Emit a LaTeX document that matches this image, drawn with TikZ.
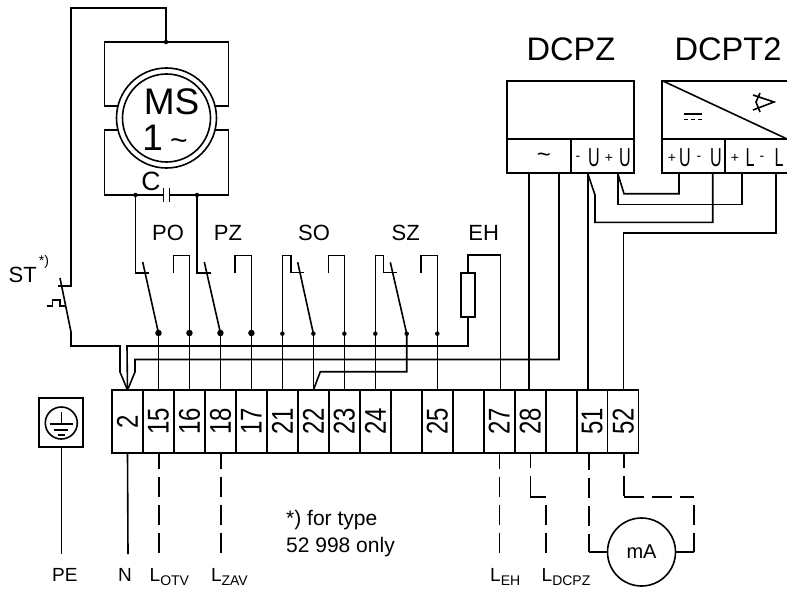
\documentclass[tikz,border=0pt]{standalone}
\usepackage{fontspec}
\setmainfont{Liberation Sans}
\usepackage{tikz}
\newcommand{\fsz}[1]{\fontsize{#1}{#1}\selectfont}
\newcommand{\condtext}[1]{\scalebox{0.62}[1]{\fsz{26}#1}}
\newcommand{\termtext}[1]{\rotatebox{90}{\scalebox{0.8}[1]{\fsz{30}#1}}}
\newcommand{\Lsub}[1]{L\raisebox{-4pt}{\fsz{14}#1}}
\tikzset{
  wire/.style={line width=1.6pt},
  dashwire/.style={line width=1.6pt,dash pattern=on 20pt off 8pt},
  bigdot/.style={circle,fill,inner sep=0pt,minimum size=6.5pt},
  smalldot/.style={circle,fill,inner sep=0pt,minimum size=4.5pt},
  termbox/.style={draw,line width=1.6pt,inner sep=0pt,outer sep=0pt,minimum width=30.98pt,minimum height=62.7pt},
  devbox/.style={draw,line width=2pt,inner sep=0pt,outer sep=0pt,minimum height=34pt},
  label/.style={inner sep=0pt,font=\fsz{22}},
  botlabel/.style={inner sep=0pt,anchor=base west,font=\fsz{19}},
  tiny/.style={inner sep=0pt,font=\fsz{14}}
}

\begin{document}
\begin{tikzpicture}[x=1pt,y=-1pt]
                \useasboundingbox (0,0) rectangle (787,594);

                %terminal strip, one cell per number
                \foreach \name/\lab [count=\i from 0] in {t2/2,t15/15,t16/16,t18/18,t17/17,t21/21,t22/22,t23/23,t24/24,tA/,t25/25,tB/,t27/27,t28/28,tC/,t51/51,t52/52}
                    \node[termbox] (\name) at ({127.5+30.98*\i},421.4) {\termtext{\lab}};

                %motor with its two rings
                \node (msO) at (166.5,118) [draw,circle,line width=1.6pt,inner sep=0pt,outer sep=0pt,minimum size=100pt]{};
                \node (msI) at (166.5,118) [draw,circle,line width=1.6pt,inner sep=0pt,minimum size=88pt]{};
                \node[inner sep=0pt,font=\fsz{37}] (msT) at (171.5,101.5) {MS};
                \node[inner sep=0pt,font=\fsz{37}] (oneT) at (165,138) {1\hspace{7pt}\fsz{30}\textasciitilde};
                \node[inner sep=0pt,font=\fsz{26.5}] (capT) at (151,181) {C};

                %frame above and below the motor
                \coordinate (mTL) at (104.5,42);
                \coordinate (mTR) at (228.5,42);
                \coordinate (mBL) at (104.5,195);
                \coordinate (mBR) at (228.5,195);
                \coordinate (capL) at (163.5,195);
                \coordinate (capR) at (169.5,195);
                \draw[wire] (msO.166) -| (mTL) -- (mTR) |- (msO.14);
                \draw[wire] (msO.194) -| (mBL) -- (capL);
                \draw[wire] (capR) -- (mBR) |- (msO.-14);
                \draw[wire] (capL) ++(0,-7) -- ++(0,14);
                \draw[wire] (capR) ++(0,-7) -- ++(0,14);
                \node (dTop) at (166,42) [smalldot]{};
                \node (dPO) at (135.5,195) [smalldot]{};
                \node (dPZ) at (197,195) [smalldot]{};

                %safety thermostat branch
                \coordinate (stA) at (71,8);
                \coordinate (stB) at (71,286);
                \coordinate (stC) at (58,286);
                \coordinate (stD) at (60,278);
                \coordinate (stE) at (71,332);
                \coordinate (stF) at (71,346);
                \coordinate (stG) at (120,346);
                \coordinate (stH) at (120,372);
                \draw[wire] (dTop) |- (stA) -- (stB) -- (stC);
                \draw[wire] (stD) -- (stE) -- (stF) -- (stG) -- (stH) -- (t2.north);
                \draw[wire] (46.5,306) -- (52.5,306) -- (52.5,300) -- (60,300) -- (60,306) -- (65,306);
                \node[botlabel,font=\fsz{22}] (stT) at (8.5,282.7) {ST\hspace{2pt}\raisebox{17pt}{\fsz{14}*)}};

                %PO and PZ contacts, big dots
                \node (d15) at (t15.north |- 0,333) [bigdot]{};
                \node (d16) at (t16.north |- 0,333) [bigdot]{};
                \node (d18) at (t18.north |- 0,333) [bigdot]{};
                \node (d17) at (t17.north |- 0,333) [bigdot]{};
                \foreach \a/\b in {d15/t15,d16/t16,d18/t18,d17/t17}
                    \draw[wire] (\a.center) -- (\b.north);
                \draw[wire] (dPO) -- (135.5,272.7) -- (148.5,272.7);
                \draw[wire] (142.7,262) -- (d15.center);
                \draw[wire] (dPZ) -- (197,272.7) -- (210.5,272.7);
                \draw[wire] (204.3,262) -- (d18.center);
                \draw[wire] (173.3,273) |- (d16 |- 0,255.5) -- (d16.center);
                \draw[wire] (235,273) |- (d17 |- 0,255.5) -- (d17.center);

                %SO and SZ contacts, small dots
                \node (d21) at (t21.north |- 0,333.7) [smalldot]{};
                \node (d22) at (t22.north |- 0,333.7) [smalldot]{};
                \node (d23) at (t23.north |- 0,333.7) [smalldot]{};
                \node (d24) at (t24.north |- 0,333.7) [smalldot]{};
                \node (dSZ) at (406.7,333.7) [smalldot]{};
                \node (d25) at (t25.north |- 0,333.7) [smalldot]{};
                \foreach \a/\b in {d21/t21,d22/t22,d23/t23,d24/t24,d25/t25}
                    \draw[wire] (\a.center) -- (\b.north);
                \draw[wire] (d21.center) |- (290.7,255.5) -- (290.7,272.3) -- (304.3,272.3);
                \draw[wire] (297.7,262.3) -- (d22.center);
                \draw[wire] (328.3,273) |- (d23 |- 0,255.5) -- (d23.center);
                \draw[wire] (d24.center) |- (383.3,255.5) -- (383.3,272.3) -- (397,272.3);
                \draw[wire] (390.3,262.3) -- (dSZ.center);
                \draw[wire] (421,273) |- (d25 |- 0,255.5) -- (d25.center);
                \draw[wire] (dSZ.center) -- (406.7,371.7) -- (320.3,371.7) -- (t22.north);

                %EH heater
                \node (ehR) at (468,294.7) [draw,line width=1.6pt,inner sep=0pt,outer sep=0pt,minimum width=14pt,minimum height=44pt]{};
                \coordinate (ehA) at (468,255);
                \coordinate (ehB) at (500.5,255);
                \coordinate (ehC) at (468,346);
                \draw[wire] (ehR.north) -- (ehA) -- (ehB) -- (ehB |- t27.north);
                \draw[wire] (ehR.south) -- (ehC) -- (127,346) -- (t2.north);

                %labels above the contacts
                \node[label] (poT) at (168,233) {PO};
                \node[label] (pzT) at (228,233) {PZ};
                \node[label] (soT) at (314,233) {SO};
                \node[label] (szT) at (405.7,233) {SZ};
                \node[label] (ehT) at (483.7,233) {EH};

                %DCPZ and DCPT2 boxes
                \node[devbox,minimum width=127pt,minimum height=58.6pt] (dcpzTop) at (570.8,110) {};
                \node[devbox,minimum width=63.4pt] (cellA) at (539,156.3) {};
                \node[devbox,minimum width=63.6pt] (cellB) at (602.5,156.3) {};
                \node[devbox,minimum width=125.4pt,minimum height=58.6pt] (dcptTop) at (725,110) {};
                \node[devbox,minimum width=62.7pt] (cellC) at (693.7,156.3) {};
                \node[devbox,minimum width=62.4pt] (cellD) at (756.3,156.3) {};
                \draw[wire] (dcptTop.north west) -- (dcptTop.south east);
                \node[inner sep=0pt,font=\fsz{32.6}] (dcpzT) at (571,49) {DCPZ};
                \node[inner sep=0pt,font=\fsz{32.6}] (dcptT) at (728,49) {DCPT2};

                %the marks on the DCPT2 box
                \draw[wire] (684.3,114) -- (701.7,114);
                \draw[wire,dash pattern=on 4pt off 2.7pt] (684.3,119.3) -- (701.7,119.3);
                \draw[wire] (753,95) -- (774,102) -- (753,110);
                \draw[wire] (760,93) -- (756,102) -- (760,112);

                %terminal letters of the boxes
                \node[inner sep=0pt,font=\fsz{24}] (tilT) at (544,158) {\textasciitilde};
                \foreach \n/\x/\t in {a/594/U,b/625/U,c/685/U,d/716/U,e/750/L,f/779/L}
                    \node[inner sep=0pt] (pin\n) at (\x,158) {\condtext{\t}};
                \foreach \n/\x/\t in {g/578/-,h/609/+,i/672/+,j/699/-,k/735/+,l/762/-}
                    \node[tiny] (pin\n) at (\x,158) {\t};

                %wires under the boxes
                \coordinate (pA) at (529,173.3);
                \coordinate (pB) at (559,173.3);
                \coordinate (pC) at (587.7,173.3);
                \coordinate (pD) at (617.7,173.3);
                \coordinate (pE) at (679,173.3);
                \coordinate (pF) at (712.7,173.3);
                \coordinate (pG) at (742,173.3);
                \coordinate (pH) at (775.7,173.3);
                \draw[wire] (pA) -- (pA |- t28.north);
                \draw[wire] (pB) -- (559,359.5) -- (135,359.5) -- (135,372) -- (t2.north);
                \draw[wire] (pC) -- (pC |- t51.north);
                \draw[wire] (pC) -- (595,195) -- (595,222.3) -| (pF);
                \draw[wire] (pD) -- (624,193.7) -| (pE);
                \draw[wire] (pD) -- (617.7,204.3) -| (pG);
                \draw[wire] (pH) |- (623.3,233) -- (623.3,390);

                %earth box
                \node (peBox) at (61.3,422.5) [draw,line width=2pt,inner sep=0pt,outer sep=0pt,minimum width=44pt,minimum height=48.4pt]{};
                \node (peC) at (61.3,423) [draw,circle,line width=1.6pt,inner sep=0pt,minimum size=32pt]{};
                \draw[wire] (61.3,412) -- (61.3,424);
                \draw[wire] (50,424) -- (73,424);
                \draw[wire] (54,430) -- (68,430);
                \draw[wire] (58,435) -- (64.5,435);

                %lines down to the outer connections
                \coordinate (peEnd) at (61.3,554);
                \coordinate (nEnd) at (128,554);
                \draw[wire] (peBox.south) -- (peEnd);
                \draw[wire] (t2.south) -- (nEnd);
                \foreach \a/\b/\c in {t15/159/otv,t18/221/zav,t27/499.3/eh}
                    \draw[dashwire,dash phase=4pt] (\b,452.7) -- (\b,554) coordinate (\c End);

                %DCPZ output and the meter, dashes start anew at each corner
                \node (mA) at (641.5,552) [draw,circle,line width=1.6pt,inner sep=0pt,outer sep=0pt,minimum size=68pt,font=\fsz{20}]{mA};
                \coordinate (cA) at (530.3,496.7);
                \coordinate (cB) at (545.7,496.7);
                \coordinate (cC) at (623.7,496.7);
                \coordinate (cD) at (694,496.7);
                \coordinate (cE) at (589,552);
                \coordinate (cF) at (694,552);
                \draw[dashwire,dash phase=5pt] (cA |- t28.south) -- (cA);
                \draw[wire] (cA) -- (cB);
                \draw[dashwire,dash phase=20pt] (cB) -- (545.7,554);
                \draw[dashwire,dash phase=3pt] (cE |- t51.south) -- (cE);
                \draw[wire] (cE) -- (mA.west);
                \draw[dashwire,dash phase=5pt] (cC |- t52.south) -- (cC);
                \draw[dashwire] (cC) -- (cD);
                \draw[dashwire,dash phase=20pt] (cD) -- (cF);
                \draw[wire] (cF) -- (mA.east);

                %bottom labels
                \node[botlabel] (peT) at (52,581.7) {PE};
                \node[botlabel] (nT) at (118,581.7) {N};
                \node[botlabel] (otvT) at (149.5,581.7) {\Lsub{OTV}};
                \node[botlabel] (zavT) at (210.8,581.7) {\Lsub{ZAV}};
                \node[botlabel] (ehLT) at (490,581.7) {\Lsub{EH}};
                \node[botlabel] (dcpzLT) at (541.5,581.7) {\Lsub{DCPZ}};
                \node[inner sep=0pt,anchor=west,align=left,font=\fontsize{21}{26.3}\selectfont] (noteT) at (286,533.5) {*) for type\\52 998 only};
            \end{tikzpicture}
\end{document}
